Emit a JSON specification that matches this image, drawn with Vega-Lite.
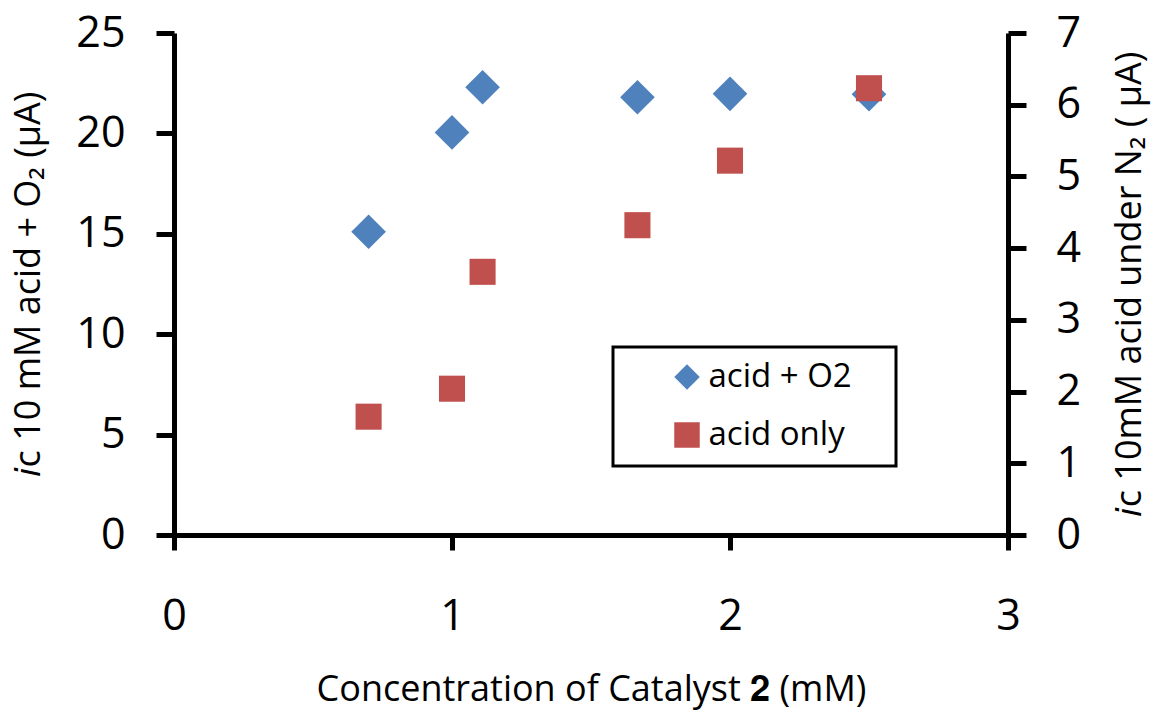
{
  "$schema": "https://vega.github.io/schema/vega-lite/v6.json",
  "width": 834,
  "height": 502,
  "autosize": {"type": "none"},
  "padding": {"left": 174, "top": 33, "right": 146, "bottom": 176},
  "background": "white",
  "config": {
    "view": {"stroke": null},
    "font": "Open Sans",
    "axis": {
      "grid": false,
      "domainColor": "black",
      "tickColor": "black",
      "domainWidth": 5,
      "tickWidth": 5,
      "labelColor": "black",
      "titleColor": "black",
      "labelFont": "Open Sans",
      "titleFont": "Open Sans",
      "titleFontWeight": "normal",
      "labelFontSize": 43,
      "titleFontSize": 36,
      "labelFlush": false
    },
    "legend": {
      "strokeColor": "black",
      "strokeWidth": 3,
      "fillColor": "white",
      "padding": 13.5,
      "labelFont": "Open Sans",
      "labelFontSize": 33,
      "labelColor": "black",
      "symbolSize": 650,
      "symbolOffset": 44,
      "labelOffset": 5,
      "rowPadding": 24,
      "symbolStrokeWidth": 0,
      "titleOrient": "right",
      "titleFontSize": 10,
      "titlePadding": 31
    }
  },
  "data": {
    "values": [
      {"conc": 0.7, "current": 15.1, "series": "acid + O2"},
      {"conc": 1.0, "current": 20.05, "series": "acid + O2"},
      {"conc": 1.11, "current": 22.3, "series": "acid + O2"},
      {"conc": 1.667, "current": 21.8, "series": "acid + O2"},
      {"conc": 2.0, "current": 21.97, "series": "acid + O2"},
      {"conc": 2.5, "current": 21.95, "series": "acid + O2"},
      {"conc": 0.7, "current": 1.65, "series": "acid only"},
      {"conc": 1.0, "current": 2.04, "series": "acid only"},
      {"conc": 1.11, "current": 3.67, "series": "acid only"},
      {"conc": 1.667, "current": 4.32, "series": "acid only"},
      {"conc": 2.0, "current": 5.22, "series": "acid only"},
      {"conc": 2.5, "current": 6.23, "series": "acid only"}
    ]
  },
  "layer": [
    {
      "transform": [{"filter": "datum.series === 'acid + O2'"}],
      "mark": {"type": "point", "filled": true, "size": 1200, "opacity": 1},
      "encoding": {
        "x": {
          "field": "conc",
          "type": "quantitative",
          "scale": {"domain": [0, 3]},
          "axis": {
            "values": [0, 1, 2, 3],
            "format": "d",
            "labelFlush": false,
            "title": "Concentration of Catalyst 𝟐 (mM)",
            "tickSize": 15,
            "labelPadding": 45,
            "titlePadding": 34
          }
        },
        "y": {
          "field": "current",
          "type": "quantitative",
          "scale": {"domain": [0, 25]},
          "axis": {
            "values": [0, 5, 10, 15, 20, 25],
            "title": "𝑖c 10 mM acid + O₂ (μA)",
            "tickSize": 18,
            "labelPadding": 31,
            "titlePadding": 28
          }
        },
        "color": {
          "field": "series",
          "type": "nominal",
          "scale": {"domain": ["acid + O2", "acid only"], "range": ["#4F81BD", "#C0504D"]},
          "legend": {
            "title": "\u00a0",
            "orient": "none",
            "legendX": 439,
            "legendY": 314
          }
        },
        "shape": {
          "field": "series",
          "type": "nominal",
          "scale": {"domain": ["acid + O2", "acid only"], "range": ["diamond", "square"]},
          "legend": {
            "title": "\u00a0",
            "orient": "none",
            "legendX": 439,
            "legendY": 314
          }
        }
      }
    },
    {
      "transform": [{"filter": "datum.series === 'acid only'"}],
      "mark": {"type": "point", "filled": true, "size": 680, "opacity": 1},
      "encoding": {
        "x": {"field": "conc", "type": "quantitative"},
        "y": {
          "field": "current",
          "type": "quantitative",
          "scale": {"domain": [0, 7]},
          "axis": {
            "orient": "right",
            "values": [0, 1, 2, 3, 4, 5, 6, 7],
            "title": "𝑖c 10mM acid under N₂ ( μA)",
            "titleAngle": 270,
            "titleBaseline": "top",
            "tickSize": 18,
            "labelPadding": 30,
            "titlePadding": 32
          }
        },
        "color": {"field": "series", "type": "nominal"},
        "shape": {"field": "series", "type": "nominal"}
      }
    }
  ],
  "resolve": {"scale": {"y": "independent"}}
}
